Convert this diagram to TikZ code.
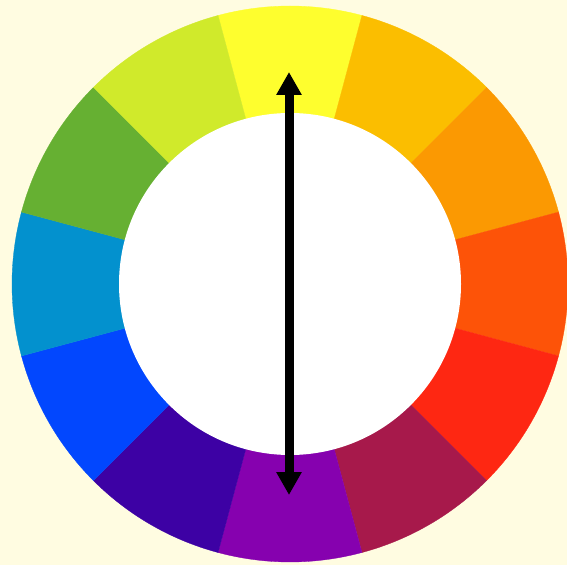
\documentclass[tikz,border=0pt]{standalone}
\usepackage{xcolor}
\usetikzlibrary{arrows.meta}
\definecolor{wheelbg}{HTML}{FFFCE1}
\definecolor{wY}{HTML}{FEFE2E}
\definecolor{wYO}{HTML}{FBBE00}
\definecolor{wO}{HTML}{FB9902}
\definecolor{wRO}{HTML}{FD5308}
\definecolor{wR}{HTML}{FE2712}
\definecolor{wRV}{HTML}{A7194B}
\definecolor{wV}{HTML}{8601AF}
\definecolor{wBV}{HTML}{3D01A4}
\definecolor{wB}{HTML}{0247FE}
\definecolor{wBG}{HTML}{0391CE}
\definecolor{wG}{HTML}{66B032}
\definecolor{wYG}{HTML}{D0EA2B}

\begin{document}
\begin{tikzpicture}[x=1pt,y=1pt,
  seg/.style={draw=#1,fill=#1,line width=0.3pt},
  pointer/.style={draw=black,line width=9pt,{Triangle[length=23pt,width=24pt]}-{Triangle[length=23pt,width=24pt]}}]
  % background and page size
  \fill[wheelbg] (0,0) rectangle (567,565);
  \useasboundingbox (0,0) rectangle (567,565);
  \coordinate (c) at (290,281);
  % twelve segments, clockwise from the top
  \foreach \col [count=\i from 0] in {wY,wYO,wO,wRO,wR,wRV,wV,wBV,wB,wBG,wG,wYG}{
    \pgfmathsetmacro{\a}{105-30*\i}
    \pgfmathsetmacro{\b}{75-30*\i}
    \path[seg=\col] (c) -- ++(\a:278) arc[start angle=\a,end angle=\b,radius=278] -- cycle;
  }
  % inner disc
  \fill[white] (c) circle[radius=171];
  % opposite colours
  \coordinate (top) at (289,493);
  \coordinate (bot) at (289,70);
  \draw[pointer] (bot) -- (top);
\end{tikzpicture}
\end{document}
